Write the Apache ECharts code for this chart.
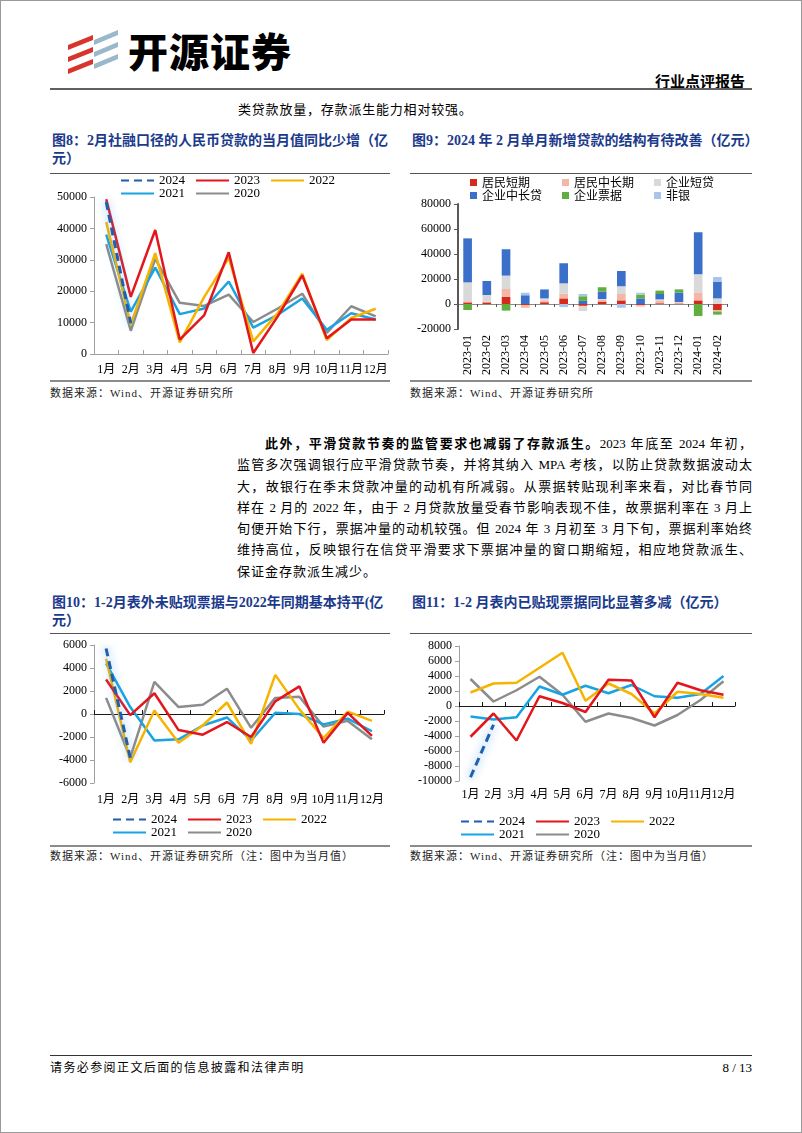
<!DOCTYPE html>
<html><head><meta charset="utf-8">
<script src="https://cdn.jsdelivr.net/npm/echarts@6/dist/echarts.min.js"></script>
<style>
html,body{margin:0;padding:0;background:#fff;}
body{width:802px;height:1133px;position:relative;overflow:hidden;font-family:"Liberation Serif","Noto Sans CJK SC",serif;color:#000;}
.abs{position:absolute;}
.frame{position:absolute;left:0;top:0;width:800px;height:1131px;border:1px solid #9a9a9a;}
.title{position:absolute;font-family:"Liberation Serif","Noto Sans CJK SC",serif;font-size:14px;font-weight:bold;color:#1b3a8c;white-space:nowrap;line-height:18px;}
.src{position:absolute;font-size:11px;color:#222;white-space:nowrap;line-height:14px;letter-spacing:1px;}
.para .ln{height:21.3px;line-height:21.3px;font-size:13px;text-align:justify;text-align-last:justify;}
.para .ln.last{text-align-last:left;letter-spacing:1px;}
</style></head>
<body>
<div class="frame"></div>

<svg class="abs" style="left:62px;top:24px" width="62" height="56" viewBox="0 0 62 56">
  <polygon points="6,21 31,11 31,16 6,26" fill="#d9342b"/>
  <polygon points="6,33 31,23 31,28 6,38" fill="#d9342b"/>
  <polygon points="6,45 31,35 31,40 6,50" fill="#d9342b"/>
  <polygon points="32,16 56,6 56,11 32,21" fill="#9ab8cc"/>
  <polygon points="32,28 56,18 56,23 32,33" fill="#9ab8cc"/>
  <polygon points="32,40 56,30 56,35 32,45" fill="#9ab8cc"/>
</svg>
<div class="abs" style="left:128px;top:26px;font-family:'Noto Sans CJK SC';font-size:40px;font-weight:900;line-height:48px;letter-spacing:1px;">开源证券</div>
<div class="abs" style="left:655px;top:73px;font-family:'Noto Sans CJK SC';font-size:15px;font-weight:bold;line-height:16px;">行业点评报告</div>
<div class="abs" style="left:50px;top:88px;width:702px;border-top:2px solid #606060;"></div>

<div class="abs" style="left:238px;top:101px;font-size:13px;line-height:18px;letter-spacing:0.8px;">类贷款放量，存款派生能力相对较强。</div>

<div class="title" style="left:52px;top:132px;">图8：2月社融口径的人民币贷款的当月值同比少增（亿</div>
<div class="title" style="left:52px;top:150px;">元）</div>
<div class="title" style="left:412px;top:132px;">图9：2024 年 2 月单月新增贷款的结构有待改善（亿元）</div>
<div class="abs" style="left:50px;top:173px;width:340px;border-top:1.5px solid #555;"></div>
<div class="abs" style="left:410px;top:173px;width:342px;border-top:1.5px solid #555;"></div>

<div id="c8" class="abs" style="left:50px;top:174px;width:340px;height:206px;"></div>
<div id="c9" class="abs" style="left:410px;top:174px;width:342px;height:206px;"></div>

<div class="abs" style="left:50px;top:380px;width:340px;border-top:2px solid #8c8c8c;"></div>
<div class="abs" style="left:410px;top:380px;width:342px;border-top:2px solid #8c8c8c;"></div>
<div class="src" style="left:50px;top:386px;">数据来源：Wind、开源证券研究所</div>
<div class="src" style="left:410px;top:386px;">数据来源：Wind、开源证券研究所</div>

<div class="para abs" style="left:237px;top:433px;width:515px;">
  <div class="ln" style="padding-left:28px;"><b>此外，平滑贷款节奏的监管要求也减弱了存款派生。</b>2023 年底至 2024 年初，</div>
  <div class="ln">监管多次强调银行应平滑贷款节奏，并将其纳入 MPA 考核，以防止贷款数据波动太</div>
  <div class="ln">大，故银行在季末贷款冲量的动机有所减弱。从票据转贴现利率来看，对比春节同</div>
  <div class="ln">样在 2 月的 2022 年，由于 2 月贷款放量受春节影响表现不佳，故票据利率在 3 月上</div>
  <div class="ln">旬便开始下行，票据冲量的动机较强。但 2024 年 3 月初至 3 月下旬，票据利率始终</div>
  <div class="ln">维持高位，反映银行在信贷平滑要求下票据冲量的窗口期缩短，相应地贷款派生、</div>
  <div class="ln last">保证金存款派生减少。</div>
</div>

<div class="title" style="left:52px;top:594px;">图10：1-2月表外未贴现票据与2022年同期基本持平(亿</div>
<div class="title" style="left:52px;top:612px;">元）</div>
<div class="title" style="left:412px;top:594px;">图11：1-2 月表内已贴现票据同比显著多减（亿元）</div>
<div class="abs" style="left:50px;top:633px;width:340px;border-top:1.5px solid #555;"></div>
<div class="abs" style="left:410px;top:633px;width:342px;border-top:1.5px solid #555;"></div>

<div id="c10" class="abs" style="left:50px;top:634px;width:340px;height:211px;"></div>
<div id="c11" class="abs" style="left:410px;top:634px;width:342px;height:211px;"></div>

<div class="abs" style="left:50px;top:845px;width:340px;border-top:2px solid #8c8c8c;"></div>
<div class="abs" style="left:410px;top:845px;width:342px;border-top:2px solid #8c8c8c;"></div>
<div class="src" style="left:50px;top:849px;">数据来源：Wind、开源证券研究所（注：图中为当月值）</div>
<div class="src" style="left:410px;top:849px;">数据来源：Wind、开源证券研究所（注：图中为当月值）</div>

<div class="abs" style="left:50px;top:1055px;width:702px;border-top:1.5px solid #333;"></div>
<div class="abs" style="left:50px;top:1060px;font-size:12px;line-height:16px;letter-spacing:1.4px;">请务必参阅正文后面的信息披露和法律声明</div>
<div class="abs" style="right:50px;top:1060px;font-size:13px;line-height:16px;">8 / 13</div>

<script>
// ---------- data ----------
const months = ['1月','2月','3月','4月','5月','6月','7月','8月','9月','10月','11月','12月'];
const years = ['2024','2023','2022','2021','2020'];

// Fig 8: RMB loans in TSF, monthly (亿元)
const loan2024 = [48400, 9800];
const loan2023 = [49300, 18200, 39500, 4600, 12400, 32400, 300, 12000, 25000, 5000, 11000, 11000];
const loan2022 = [42000, 9300, 32100, 3700, 18200, 30600, 4000, 13000, 25600, 4400, 11500, 14400];
const loan2021 = [38000, 13500, 27500, 12700, 14500, 23100, 8400, 12500, 17700, 7700, 13000, 11000];
const loan2020 = [35000, 7400, 30300, 16300, 15300, 18900, 10200, 14500, 19200, 6700, 15200, 12000];

// Fig 9: structure of new loans (亿元)
const months9 = ['2023-01','2023-02','2023-03','2023-04','2023-05','2023-06','2023-07','2023-08','2023-09','2023-10','2023-11','2023-12','2024-01','2024-02'];
const hhShort   = [1300, 1300, 5600, -1000, 1400, 4500, -1500, 1900, 2900, -1000, 600, 400, 2900, -5000];
const hhLong    = [1000, 500, 6400, -2000, 1500, 3800, -700, 1300, 5100, -400, 1900, 900, 6400, -1000];
const corpShort = [15000, 5400, 10700, 0, 1600, 8200, -3400, 800, 6200, -900, 1200, 300, 14500, 4500];
const corpLong  = [35200, 11200, 21100, 7000, 7200, 16100, 2500, 5900, 12200, 4500, 4300, 7600, 33600, 13400];
const bills     = [-4800, -300, -5300, 0, 0, 0, 3700, 3500, 0, 3000, 2700, 2500, -9600, -2500];
const nonBank   = [0, 0, 0, 2000, 300, -2500, 1800, 0, -3000, 1500, 0, 0, 0, 3700];

// Fig 10: off-balance undiscounted bills (亿元)
const off2024 = [5700, -3800];
const off2023 = [3000, -100, 1800, -1400, -1800, -700, -2000, 1100, 2400, -2500, 100, -1900];
const off2022 = [4800, -4200, 300, -2500, -1000, 1000, -2600, 3400, 400, -2100, 200, -600];
const off2021 = [4400, 600, -2300, -2200, -1000, -300, -2300, 100, 0, -900, -400, -1500];
const off2020 = [1400, -3800, 2800, 600, 800, 2200, -1200, 1400, 1500, -1100, -600, -2200];

// Fig 11: on-balance discounted bills (亿元)
const on2024 = [-9500, -2500];
const on2023 = [-4100, -1000, -4600, 1300, 400, -800, 3500, 3400, -1500, 3100, 2100, 1500];
const on2022 = [1800, 3000, 3100, 5100, 7100, 700, 3000, 1600, -1000, 1900, 1600, 1100];
const on2021 = [-1400, -1800, -1500, 2600, 1500, 2700, 1700, 2800, 1300, 1100, 1600, 4000];
const on2020 = [3600, 600, 2100, 3900, 1500, -2100, -1000, -1600, -2600, -1200, 800, 3300];

// ---------- styling ----------
const SERIF = '"Liberation Serif","Noto Sans CJK SC",serif';
const yearColor = {'2024':'#1f5fad','2023':'#e3161d','2022':'#f6b400','2021':'#18a3e3','2020':'#8c8c8c'};
const plain = v => String(v);

function lineSeries(dataByYear){
  const order = ['2020','2021','2022','2023','2024'];
  return order.map(y => {
    const s = {
      name: y, type: 'line', data: dataByYear[y], symbol: 'none', smooth: false,
      lineStyle: {color: yearColor[y], width: 2.5},
      itemStyle: {color: yearColor[y]},
      emphasis: {disabled: true}
    };
    if (y === '2024') {
      s.lineStyle = {color: yearColor[y], width: 3, type: [8, 5],
        shadowColor: 'rgba(80,160,235,0.9)', shadowBlur: 9};
    }
    return s;
  });
}

function lineOption(cfg){
  const legendBase = {
    left: cfg.legLeft, padding: 0, itemWidth: 33, itemHeight: 12, itemGap: 10,
    textStyle: {fontFamily: SERIF, fontSize: 13, color: '#000', width: cfg.legTextW},
    lineStyle: {shadowBlur: 0}, itemStyle: {opacity: 0}, selectedMode: false
  };
  return {
    animation: false,
    legend: [
      Object.assign({}, legendBase, {data: ['2024','2023','2022'], top: cfg.legTop}),
      Object.assign({}, legendBase, {data: ['2021','2020'], top: cfg.legTop + 13})
    ],
    grid: Object.assign({containLabel: false, outerBoundsMode: 'none'}, cfg.grid),
    xAxis: {
      type: 'category', data: months, boundaryGap: true,
      axisLine: {show: true, onZero: true, lineStyle: {color: cfg.xLineColor, width: 1}},
      axisTick: {show: true, inside: true, length: 4, lineStyle: {color: cfg.xLineColor}},
      axisLabel: {interval: 0, margin: cfg.xMargin, fontFamily: SERIF, fontSize: 12, color: '#000', hideOverlap: false}
    },
    yAxis: {
      type: 'value', min: cfg.yMin, max: cfg.yMax, interval: cfg.yInt,
      axisLine: {show: true, lineStyle: {color: '#a0a0a0', width: 1}},
      axisTick: {show: true, length: 4, lineStyle: {color: '#a0a0a0'}},
      splitLine: {show: false},
      axisLabel: {margin: 7, fontFamily: SERIF, fontSize: 12, color: '#000', formatter: plain}
    },
    series: lineSeries(cfg.data)
  };
}

// Fig 8
echarts.init(document.getElementById('c8')).setOption(lineOption({
  grid: {left: 44, top: 23, width: 294, height: 157},
  legLeft: 70, legTop: 0, legTextW: 36,
  xLineColor: '#a0a0a0', xMargin: 10,
  yMin: 0, yMax: 50000, yInt: 10000,
  data: {'2024': loan2024, '2023': loan2023, '2022': loan2022, '2021': loan2021, '2020': loan2020}
}));

// Fig 10
echarts.init(document.getElementById('c10')).setOption(lineOption({
  grid: {left: 44, top: 11, width: 290, height: 138},
  legLeft: 62, legTop: 179, legTextW: 33,
  xLineColor: '#1a1a1a', xMargin: 11,
  yMin: -6000, yMax: 6000, yInt: 2000,
  data: {'2024': off2024, '2023': off2023, '2022': off2022, '2021': off2021, '2020': off2020}
}));

// Fig 11
echarts.init(document.getElementById('c11')).setOption(lineOption({
  grid: {left: 49, top: 12, width: 276, height: 135},
  legLeft: 50, legTop: 181, legTextW: 39,
  xLineColor: '#1a1a1a', xMargin: 8,
  yMin: -10000, yMax: 8000, yInt: 2000,
  data: {'2024': on2024, '2023': on2023, '2022': on2022, '2021': on2021, '2020': on2020}
}));

// Fig 9
const barNames = ['居民短期','居民中长期','企业短贷','企业中长贷','企业票据','非银'];
const barData = [hhShort, hhLong, corpShort, corpLong, bills, nonBank];
const barColors = ['#d52b1e','#f2b7a6','#d9d9d9','#3a6fca','#5fae3e','#a9c5ea'];
const legend9Base = {
  left: 60, padding: 0, itemWidth: 7, itemHeight: 7, itemGap: 5, icon: 'rect', selectedMode: false,
  textStyle: {fontFamily: '"Noto Sans CJK SC",sans-serif', fontSize: 12, color: '#000', width: 75, lineHeight: 13}
};
echarts.init(document.getElementById('c9')).setOption({
  animation: false,
  legend: [
    Object.assign({}, legend9Base, {data: barNames.slice(0,3), top: 2}),
    Object.assign({}, legend9Base, {data: barNames.slice(3), top: 15})
  ],
  grid: {left: 48, top: 30, width: 269, height: 125, containLabel: false, outerBoundsMode: 'none'},
  xAxis: {
    type: 'category', data: months9,
    axisLine: {show: true, onZero: true, lineStyle: {color: '#8c8c8c', width: 1}},
    axisTick: {show: true, length: 3, lineStyle: {color: '#555'}},
    axisLabel: {interval: 0, rotate: 90, margin: 6, fontFamily: SERIF, fontSize: 12, color: '#000'}
  },
  yAxis: {
    type: 'value', min: -20000, max: 80000, interval: 20000,
    axisLine: {show: true, lineStyle: {color: '#595959', width: 2}},
    axisTick: {show: true, length: 4, lineStyle: {color: '#595959'}},
    splitLine: {show: false},
    axisLabel: {margin: 7, fontFamily: SERIF, fontSize: 12, color: '#000', formatter: plain}
  },
  series: barNames.map((n, i) => ({
    name: n, type: 'bar', stack: 'loans', data: barData[i], barWidth: '45%',
    itemStyle: {color: barColors[i]}, emphasis: {disabled: true}
  }))
});
</script>
</body></html>
